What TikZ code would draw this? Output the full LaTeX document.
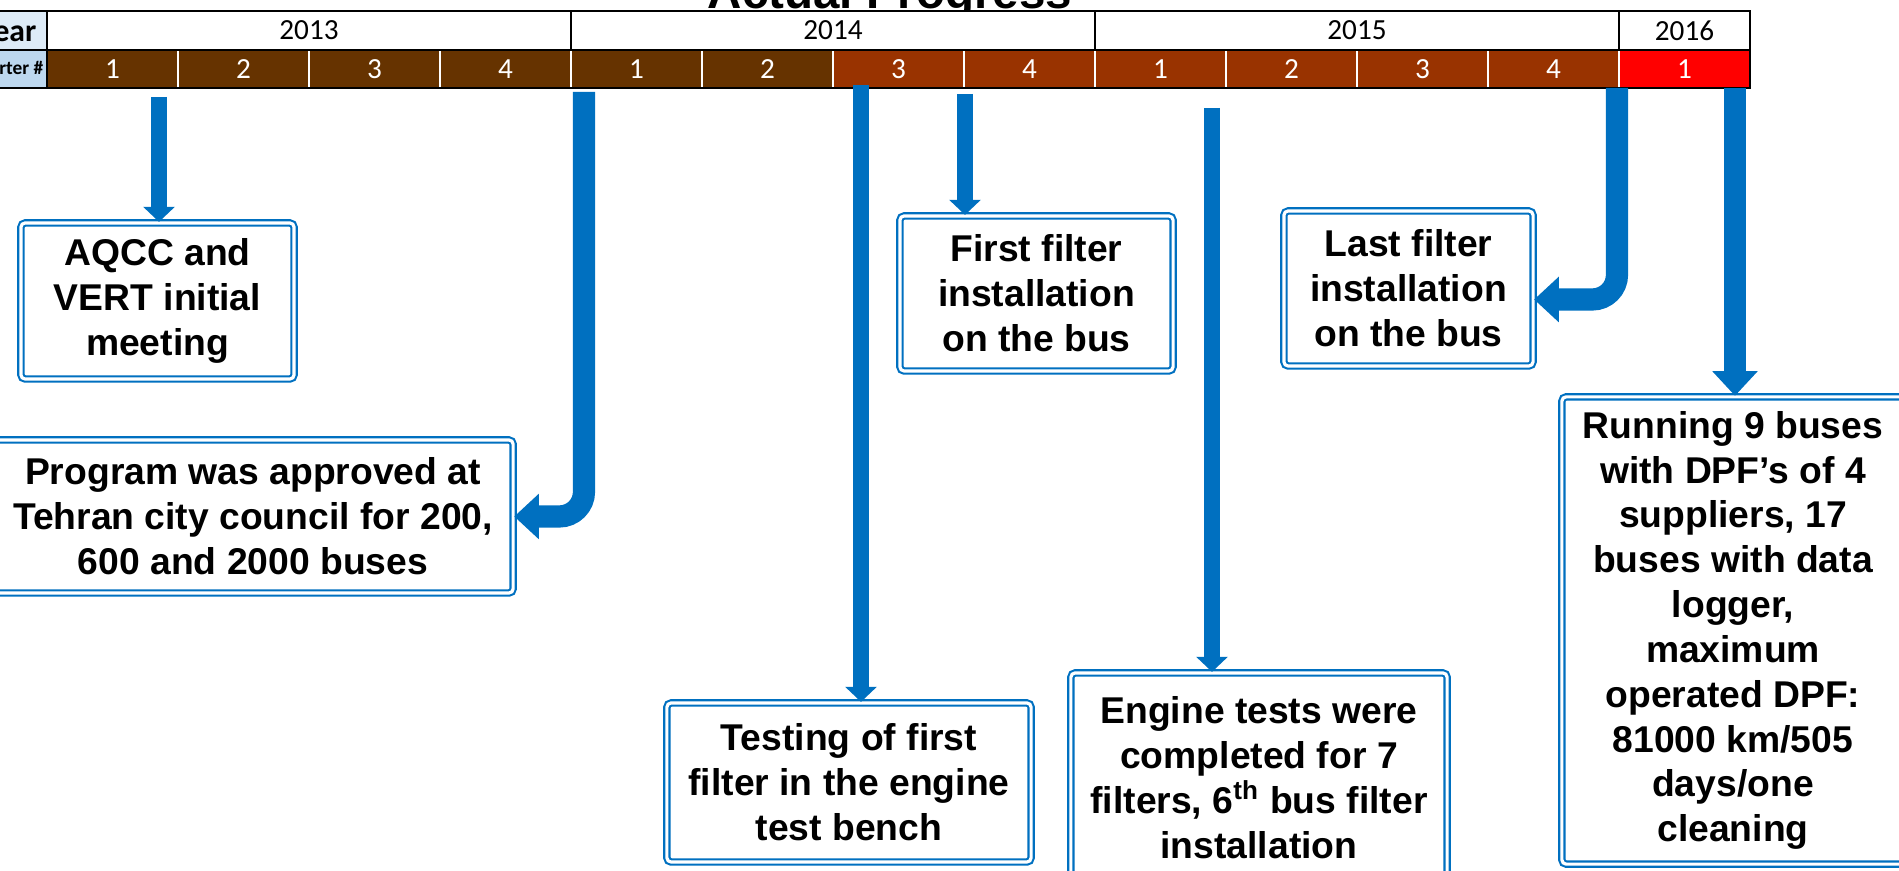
\documentclass[tikz,border=0pt]{standalone}
\usepackage{fontspec}
\setmainfont{Liberation Sans}
\newfontfamily\calibri{Carlito}
\usetikzlibrary{arrows.meta}
\usetikzlibrary{calc}
\usepackage{xcolor}
\definecolor{flowblue}{HTML}{0070C0}
\definecolor{qold}{HTML}{663300}
\definecolor{qmid}{HTML}{993300}
\definecolor{qnew}{HTML}{FF0000}
\definecolor{yearbg}{HTML}{DDEBF7}
\definecolor{qtrbg}{HTML}{BDD7EE}

\begin{document}
\begin{tikzpicture}[x=0.01cm, y=-0.01cm,
        box/.style={draw=flowblue, double=white, line width=0.6pt, double distance=0.9pt, rounded corners=1.2pt, fill=white, align=center, inner sep=0pt, font=\fontsize{10.6}{12.75}\selectfont\bfseries},
        flow/.style={draw=flowblue, line width=4.6pt, -{Triangle[width=8.8pt, length=4.3pt]}},
        bigflow/.style={draw=flowblue, line width=6.3pt, rounded corners=7pt, -{Triangle[width=12.5pt, length=7pt]}},
        yr/.style={font=\calibri\fontsize{8.3}{9}\selectfont},
        qt/.style={font=\calibri\fontsize{8.3}{9}\selectfont, text=white}]
            \useasboundingbox (0,0) rectangle (1899,871);

            \node[anchor=base, font=\bfseries\fontsize{13.5}{16}\selectfont] (title) at (890,9) {Actual Progress};

            % year and quarter rows
            \fill[white] (47,11) rectangle (1750,50);
            \fill[yearbg] (-60,11) rectangle (47,50);
            \fill[qtrbg] (-60,50) rectangle (47,88);
            \node[anchor=east, inner sep=0pt, font=\calibri\bfseries\fontsize{9}{11}\selectfont] (ylab) at (37,31) {Year};
            \node[anchor=east, inner sep=0pt, font=\calibri\bfseries\fontsize{5.5}{7}\selectfont] (qlab) at (44,69) {Quarter \#};
            \foreach \q/\c [count=\i from 0] in {1/qold,2/qold,3/qold,4/qold,1/qold,2/qold,3/qmid,4/qmid,1/qmid,2/qmid,3/qmid,4/qmid,1/qnew} {
                \fill[\c] (47+131*\i,50) rectangle (178+131*\i,88);
                \node[qt] (q\i) at (112.5+131*\i,69) {\q};
                \draw[white, line width=0.4pt] (47+131*\i,50) -- (47+131*\i,88);
            }
            \foreach \y/\a/\b in {2013/47/571, 2014/571/1095, 2015/1095/1619, 2016/1619/1750} {
                \node[yr] (y\y) at ({(\a+\b)/2},30.5) {\y};
                \draw[line width=0.7pt] (\b,11) -- (\b,50);
            }
            \draw[line width=0.7pt] (-60,11) rectangle (1750,88);
            \draw[line width=0.7pt] (-60,50) -- (1750,50);
            \draw[line width=0.7pt] (47,11) -- (47,88);

            \node[box, minimum width=2.73cm, minimum height=1.56cm] (aqcc) at (157.5,301) {AQCC and\\VERT initial\\meeting};
            \node[box, minimum width=5.2cm, minimum height=1.53cm] (prog) at (253,516.5) {Program was approved at\\Tehran city council for 200,\\600 and 2000 buses};
            \node[box, minimum width=3.64cm, minimum height=1.59cm] (test) at (849,782.5) {Testing of first\\filter in the engine\\test bench};
            \node[box, minimum width=2.73cm, minimum height=1.55cm] (first) at (1036.5,293.5) {First filter\\installation\\on the bus};
            \node[box, minimum width=3.76cm, minimum height=2.09cm] (engine) at (1259,777.5) {Engine tests were\\completed for 7\\filters, 6\textsuperscript{th} bus filter\\installation};
            \node[box, minimum width=2.49cm, minimum height=1.55cm] (last) at (1408.5,288.5) {Last filter\\installation\\on the bus};
            \node[box, minimum width=3.42cm, minimum height=4.67cm] (run) at (1733,630.5) {Running 9 buses\\with DPF’s of 4\\suppliers, 17\\buses with data\\logger,\\maximum\\operated DPF:\\81000 km/505\\days/one\\cleaning};

            \coordinate (t1) at (159,97);
            \coordinate (t2) at (584,92);
            \coordinate (t3) at (861,85);
            \coordinate (t4) at (965,94);
            \coordinate (t5) at (1212,108);
            \coordinate (t6) at (1617,88);
            \coordinate (t7) at (1735,88);

            \draw[flow] (t1) -- (t1 |- aqcc.north);
            \draw[bigflow] (t2) |- (prog.east);
            \draw[flow] (t3) -- (t3 |- test.north);
            \draw[flow] (t4) -- (t4 |- first.north);
            \draw[flow] (t5) -- (t5 |- engine.north);
            \draw[bigflow] (t6) |- ($(last.east)+(0,11)$);
            \draw[bigflow] (t7) -- (t7 |- run.north);
        \end{tikzpicture}
\end{document}
